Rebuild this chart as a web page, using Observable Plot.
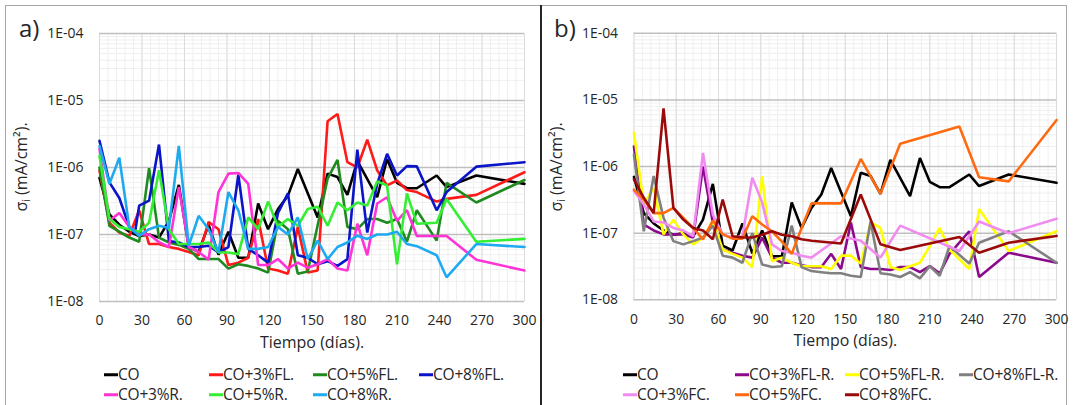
<!DOCTYPE html>
<html><head><meta charset="utf-8">
<script src="https://cdn.jsdelivr.net/npm/d3@7"></script>
<script src="https://cdn.jsdelivr.net/npm/@observablehq/plot@0.6"></script>
<style>
body{margin:0;background:#fff;font-family:"Open Sans",sans-serif;color:#262626;}
#root{position:relative;width:1073px;height:405px;overflow:hidden;background:#fff;}
.frame{position:absolute;left:5px;top:5px;width:1062px;height:430px;border:1px solid #a6a6a6;box-sizing:border-box;}
.divider{position:absolute;left:540px;top:5px;width:2px;height:400px;background:#262626;}
.panel{position:absolute;top:0;}
.tag{position:absolute;font-size:24px;line-height:1;}
.ylab{position:absolute;font-size:16px;white-space:nowrap;transform:translate(-50%,-50%) rotate(-90deg);line-height:1;}
.ylab sub{font-size:11px;vertical-align:-3px;}
.item{position:absolute;display:flex;align-items:center;white-space:nowrap;font-size:15.5px;line-height:1;transform:translateY(-50%);letter-spacing:-0.2px;}
.sw{display:inline-block;width:14px;height:3px;margin-right:0px;}
</style></head>
<body><div id="root"><div class="frame"></div></div>
<script>
// ---------- data ----------
const xTicks = [0,30,60,90,120,150,180,210,240,270,300];
const yTicks = [1e-8,1e-7,1e-6,1e-5,1e-4];

const daysCO = [0,7,14,21,28,35,42,49,56,63,70,77,84,91,98,105,112,119,126,133,140,154,161,168,175,182,196,203,210,217,224,238,245,266,300];
const valsCO = [7e-7,2.0e-7,1.4e-7,1.1e-7,9.5e-8,1.0e-7,9.0e-8,1.6e-7,5.5e-7,6.5e-8,5.5e-8,1.4e-7,5.0e-8,1.1e-7,4.5e-8,4.5e-8,2.9e-7,1.2e-7,2.4e-7,3.8e-7,9.5e-7,1.8e-7,8.1e-7,7.2e-7,3.9e-7,1.26e-6,3.6e-7,1.34e-6,5.9e-7,4.9e-7,4.9e-7,7.6e-7,5.1e-7,7.6e-7,5.7e-7];

const daysA = [0,7,14,21,28,35,42,49,56,63,70,77,84,91,98,105,112,119,126,133,140,147,154,161,168,175,182,189,196,203,210,217,224,238,245,266,300];
const vals3FL = [9e-7,1.5e-7,1.07e-7,9.5e-8,2.3e-7,7.2e-8,7.2e-8,6.5e-8,6.1e-8,5.5e-8,4.9e-8,1.54e-7,1.2e-7,3.5e-8,3.8e-8,4.5e-8,1.7e-7,3.1e-8,2.9e-8,2.6e-8,1.3e-7,2.7e-8,2.9e-8,4.9e-6,6.3e-6,1.2e-6,1.0e-6,2.6e-6,9.1e-7,5.4e-7,6.4e-7,4.6e-7,4.3e-7,3.1e-7,3.4e-7,3.9e-7,8.5e-7];
const days5FL = [0,7,14,21,28,35,42,49,56,63,70,77,84,91,98,105,112,119,126,133,140,147,161,168,175,182,189,196,203,210,217,224,238,245,266,300];
const vals5FL = [1.0e-6,1.35e-7,1.1e-7,9e-8,7.8e-8,9.8e-7,9e-8,7.6e-8,7e-8,6.1e-8,4.3e-8,4.3e-8,4.3e-8,3.1e-8,3.6e-8,3.4e-8,3.1e-8,2.7e-8,1.6e-7,1.2e-7,2.6e-8,2.8e-8,6.8e-7,1.3e-6,1.3e-7,1.2e-7,1.7e-7,1.7e-7,1.5e-7,1.7e-7,7.8e-8,2.3e-7,8.1e-8,5.9e-7,3.0e-7,6.5e-7];
const days8FL = [0,7,14,21,25,28,35,42,49,56,63,70,77,84,91,98,105,112,119,126,133,140,147,154,161,168,175,182,189,196,203,210,217,224,238,245,266,300];
const vals8FL = [2.5e-6,6e-7,3.5e-7,1.3e-7,1.05e-7,2.7e-7,3.2e-7,2.2e-6,8e-8,7.6e-8,6.5e-8,6.5e-8,6.8e-8,5.4e-8,6.5e-8,7.8e-7,6.1e-8,4.9e-8,3.8e-8,2.1e-7,4.1e-7,4.9e-8,4.5e-8,3.6e-8,4.0e-8,3.4e-8,4.3e-8,1.85e-6,1.07e-7,5.7e-7,1.6e-6,7.6e-7,1.05e-6,1.04e-6,2.3e-7,4.3e-7,1.03e-6,1.2e-6];
const days3R = [0,7,14,21,28,35,42,49,56,63,70,77,84,91,98,105,112,119,126,133,140,147,154,161,168,175,182,189,196,203,210,217,224,245,266,300];
const vals3R = [1.9e-6,1.6e-7,2.1e-7,1.3e-7,1e-7,1e-7,7.7e-8,6.5e-8,5.1e-7,6.5e-8,5.5e-8,4.2e-8,4.3e-7,8.1e-7,8.3e-7,5.7e-7,3.5e-8,3.5e-8,4.3e-8,3.1e-8,3.8e-8,3.2e-8,3.6e-8,4.3e-8,3.1e-8,2.9e-8,1.45e-7,4.9e-8,2.9e-7,3.6e-7,1.6e-7,2.3e-7,9.5e-8,9.5e-8,4.2e-8,2.9e-8];
const vals5R = [1.5e-6,1.7e-7,1.3e-7,1.2e-7,1.1e-7,1.5e-7,9.1e-7,1.2e-7,7.2e-8,7.2e-8,7.2e-8,7.6e-8,5.4e-8,5.4e-8,5.1e-8,1.8e-7,1.2e-7,3.1e-7,1.3e-7,1.7e-7,1.35e-7,2.4e-7,2.6e-7,1.35e-7,3.0e-7,2.3e-7,3.0e-7,2.7e-7,6.2e-7,5.4e-7,3.6e-8,4.1e-7,1.45e-7,1.5e-7,3.4e-7,7.8e-8,8.6e-8];
const vals8R = [2.1e-6,5.7e-7,1.4e-6,1.3e-7,9.6e-8,1.2e-7,1.35e-7,1.25e-7,2.1e-6,6.8e-8,1.9e-7,1.2e-7,5.4e-8,4.3e-7,2.3e-7,6.1e-8,6.1e-8,6.5e-8,1.3e-7,1.0e-7,1.8e-7,4.3e-8,8.1e-8,4.3e-8,6.5e-8,7.6e-8,9.6e-8,8.6e-8,1e-7,1e-7,1.1e-7,7.2e-8,6.7e-8,4.9e-8,2.3e-8,7.2e-8,6.5e-8];

const daysB = [0,7,14,21,28,35,42,49,56,63,70,77,84,91,98,105,112,119,126,133,140,147,154,161,168,175,182,189,196,203,210,217,224,238,245,266,300];
const vals3FLR = [2.0e-6,1.35e-7,1.1e-7,9.6e-8,9.6e-8,9.6e-8,8.6e-8,1e-6,1.45e-7,5.7e-8,5.1e-8,4.6e-8,4.3e-8,8.6e-8,4.3e-8,3.6e-8,3.6e-8,3.3e-8,3.1e-8,3.1e-8,4.9e-8,2.9e-8,1.45e-7,3.1e-8,2.9e-8,2.9e-8,2.8e-8,3.1e-8,3.1e-8,2.6e-8,3.2e-8,2.5e-8,4.9e-8,1.07e-7,2.2e-8,5.1e-8,3.6e-8];
const vals5FLR = [3.2e-6,2.7e-7,4.8e-7,9.6e-8,1.6e-7,9.6e-8,6.8e-8,8.6e-8,1.5e-7,5.7e-8,4.9e-8,4.3e-8,3.1e-8,7.2e-7,3.8e-8,4.3e-8,3.6e-8,3.2e-8,3.2e-8,3.2e-8,2.9e-8,4.6e-8,4.6e-8,3.5e-8,1.45e-7,1.2e-7,3.1e-8,2.8e-8,3.2e-8,3.6e-8,6.4e-8,1.2e-7,5.7e-8,2.9e-8,2.3e-7,5.4e-8,1.07e-7];
const vals8FLR = [1.5e-6,1.07e-7,7.2e-7,1.7e-7,7.6e-8,6.8e-8,7.6e-8,8.6e-8,1.3e-7,4.6e-8,4.3e-8,3.6e-8,1.0e-7,3.4e-8,3.1e-8,3.2e-8,1.3e-7,3.1e-8,2.7e-8,2.6e-8,2.5e-8,2.5e-8,2.3e-8,2.2e-8,1.5e-7,2.5e-8,2.4e-8,2.2e-8,2.6e-8,2.1e-8,3.2e-8,2.3e-8,6.4e-8,3.5e-8,7.2e-8,1.07e-7,3.6e-8];

const daysFC = [0,7,14,21,28,35,42,49,56,63,70,77,84,91,98,105,112,119,126,147,161,175,189,231,245,266,300];
const vals3FC = [4.3e-7,2.7e-7,1.5e-7,1.45e-7,1.2e-7,1.1e-7,9e-8,1.6e-6,1.9e-7,9.6e-8,8.6e-8,9e-8,6.8e-7,2.9e-7,6.8e-8,5.4e-8,5.1e-8,4.6e-8,4.3e-8,9.0e-8,7.7e-8,4.3e-8,1.3e-7,5.4e-8,1.5e-7,1.0e-7,1.65e-7];
const vals5FC = [4.5e-7,3.2e-7,2e-7,2e-7,2.4e-7,1.7e-7,1.2e-7,8.1e-8,1.55e-7,9.6e-8,8.3e-8,8.3e-8,1.8e-7,1.35e-7,1.07e-7,7.5e-8,4.9e-8,1.2e-7,2.8e-7,2.8e-7,1.3e-6,3.9e-7,2.2e-6,4e-6,6.9e-7,6e-7,5e-6];
const vals8FC = [6.4e-7,3.4e-7,2e-7,7.5e-6,2.4e-7,1.6e-7,1.2e-7,1.1e-7,8.1e-8,3.2e-7,9e-8,8.6e-8,8.6e-8,9.5e-8,1.07e-7,9.5e-8,9e-8,8.1e-8,7.7e-8,7e-8,3.8e-7,6.8e-8,5.6e-8,8.8e-8,5.1e-8,7.2e-8,9.1e-8];

const namesA = ["CO","CO+3%FL.","CO+5%FL.","CO+8%FL.","CO+3%R.","CO+5%R.","CO+8%R."];
const colorsA = ["#000000","#ff1a1a","#1f8a1f","#0a14c8","#ff33d6","#33ee33","#1eaaf0"];
const namesB = ["CO","CO+3%FL-R.","CO+5%FL-R.","CO+8%FL-R.","CO+3%FC.","CO+5%FC.","CO+8%FC."];
const colorsB = ["#000000","#8b0a8b","#ffff00","#808080","#f08cf0","#ff6a10","#9b0a0a"];

// ---------- build ----------
const seriesA = [
  [daysCO, valsCO],[daysA, vals3FL],[days5FL, vals5FL],[days8FL, vals8FL],
  [days3R, vals3R],[daysA, vals5R],[daysA, vals8R]
].map(([d,v],i)=>({name:namesA[i], color:colorsA[i], rows:d.map((x,j)=>({day:x, v:v[j]}))}));
const seriesB = [
  [daysCO, valsCO],[daysB, vals3FLR],[daysB, vals5FLR],[daysB, vals8FLR],
  [daysFC, vals3FC],[daysFC, vals5FC],[daysFC, vals8FC]
].map(([d,v],i)=>({name:namesB[i], color:colorsB[i], rows:d.map((x,j)=>({day:x, v:v[j]}))}));

const minorX = d3.range(0, 301, 6);
const minorY = [];
for (let k=-8;k<-4;k++) for (let m=2;m<=9;m++) minorY.push(m*Math.pow(10,k));
const fmt = v => "1E-0" + Math.round(-Math.log10(v));

function makePanel(series) {
  return Plot.plot({
    width: 541, height: 360,
    marginLeft: 99, marginRight: 17, marginTop: 33, marginBottom: 59,
    style: {fontFamily: "Open Sans", fontSize: "14px", color: "#262626", background: "transparent", overflow: "visible"},
    x: {domain: [0, 300]},
    y: {type: "log", domain: [1e-8, 1e-4]},
    marks: [
      Plot.gridY(minorY, {stroke: "#efefef", strokeOpacity: 1}),
      Plot.gridX(minorX, {stroke: "#efefef", strokeOpacity: 1}),
      Plot.gridX(xTicks, {stroke: "#dcdcdc", strokeOpacity: 1}),
      Plot.gridY(yTicks, {stroke: "#bfbfbf", strokeOpacity: 1, strokeWidth: 1.6}),
      ...series.map(s => Plot.line(s.rows, {x: "day", y: "v", stroke: s.color, strokeWidth: 2.6, strokeLinejoin: "miter"})),
      Plot.axisX(xTicks, {tickSize: 0, tickPadding: 14, fontSize: 14, label: null}),
      Plot.axisY(yTicks, {tickSize: 0, tickPadding: 16, tickFormat: fmt, fontSize: 14, label: null}),
      Plot.text(["Tiempo (días)."], {frameAnchor: "bottom", dy: 46, fontSize: 16})
    ]
  });
}

const root = document.getElementById("root");
function addPanel(series, left, tag, legendX) {
  const svg = makePanel(series);
  const wrap = document.createElement("div");
  wrap.className = "panel";
  wrap.style.left = left + "px";
  wrap.appendChild(svg);
  root.appendChild(wrap);
  const t = document.createElement("div");
  t.className = "tag"; t.textContent = tag;
  t.style.left = (left + 19) + "px"; t.style.top = "16px";
  root.appendChild(t);
  const yl = document.createElement("div");
  yl.className = "ylab";
  yl.innerHTML = "σ<sub>i</sub> (mA/cm²).";
  yl.style.left = (left + 22) + "px"; yl.style.top = "167px";
  root.appendChild(yl);
  series.forEach((s, i) => {
    const it = document.createElement("div");
    it.className = "item";
    it.style.left = (left + legendX[i % 4]) + "px";
    it.style.top = (i < 4 ? 375 : 395) + "px";
    it.innerHTML = `<span class="sw" style="background:${s.color}"></span>${s.name}`;
    root.appendChild(it);
  });
}
addPanel(seriesA, 0, "a)", [104, 209, 313, 419]);
addPanel(seriesB, 535, "b)", [88, 200, 310, 424]);

const div = document.createElement("div");
div.className = "divider";
root.appendChild(div);
</script>
</body></html>
